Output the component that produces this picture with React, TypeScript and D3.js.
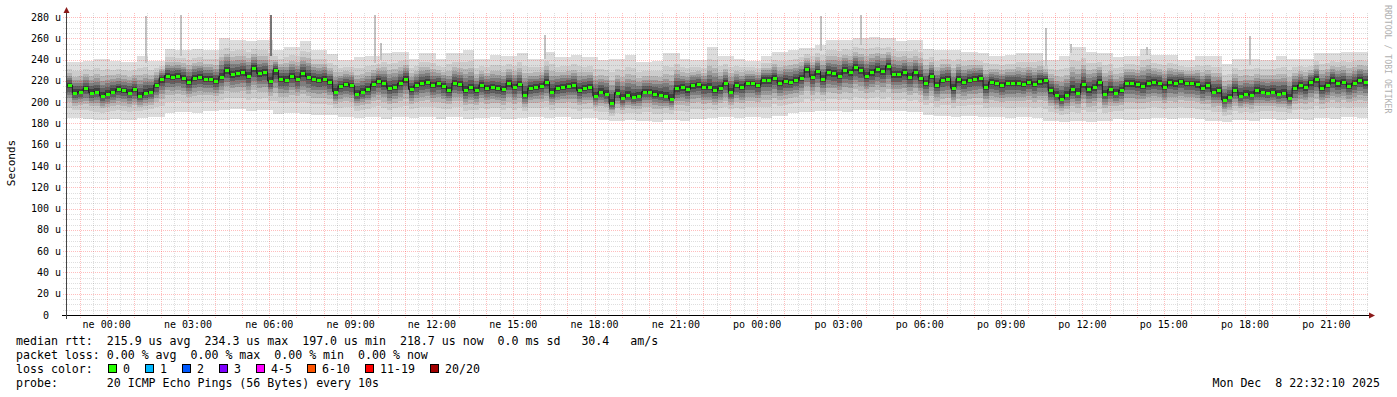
import React, { useRef, useEffect } from 'react';
import * as d3 from 'd3';

// 48 h window ending Mon Dec 8 22:32:10 2025, one median sample every 12 min
const START = Date.UTC(2025, 11, 6, 22, 32, 10);
const END = START + 48 * 3600 * 1000;
const STEP = 12 * 60 * 1000;
const HALF_HOUR = 30 * 60 * 1000;

const medianRtt = [
  216, 209, 210, 213, 209, 210, 206, 208, 210, 212,
  211, 209, 212, 206, 209, 210, 216, 222, 225, 224,
  225, 223, 219, 223, 224, 222, 222, 220, 224, 230,
  226, 227, 228, 225, 232, 227, 228, 220, 230, 222,
  221, 225, 222, 227, 224, 222, 221, 222, 219, 210,
  215, 217, 216, 208, 210, 212, 217, 220, 218, 213,
  214, 218, 222, 212, 216, 218, 219, 216, 218, 215,
  211, 218, 217, 211, 214, 211, 216, 213, 214, 213,
  212, 218, 214, 217, 207, 213, 214, 215, 219, 210,
  213, 214, 215, 216, 211, 213, 214, 206, 210, 208,
  199, 209, 204, 207, 205, 206, 210, 210, 208, 207,
  206, 203, 213, 214, 212, 216, 217, 214, 214, 211,
  213, 218, 210, 216, 214, 218, 218, 216, 221, 221,
  223, 218, 220, 219, 221, 223, 231, 224, 229, 222,
  228, 227, 225, 230, 228, 233, 230, 225, 228, 231,
  229, 234, 226, 226, 228, 224, 228, 223, 218, 225,
  216, 221, 222, 213, 222, 219, 221, 222, 223, 214,
  219, 218, 216, 218, 218, 218, 217, 219, 217, 220,
  221, 211, 207, 203, 207, 212, 209, 217, 212, 214,
  219, 208, 212, 209, 211, 218, 218, 217, 215, 218,
  219, 218, 214, 219, 218, 220, 218, 218, 217, 213,
  216, 210, 211, 202, 205, 211, 206, 208, 207, 211,
  210, 209, 210, 208, 209, 204, 213, 216, 214, 219,
  222, 213, 216, 221, 218, 219, 215, 218, 221, 219,
];

// half-hourly smoke envelope (slowest / fastest ping)
const smokeHigh = [
  238, 239, 241, 239, 238, 243, 239, 250, 249, 250, 249, 260, 258, 257, 258, 249, 252, 257, 249, 245,
  240, 242, 243, 246, 247, 241, 246, 241, 246, 249, 241, 244, 243, 246, 241, 247, 242, 244, 242,
  240, 241, 244, 238, 239, 246, 241, 240, 252, 243, 241, 239, 243, 247, 249, 251, 254, 258, 258,
  260, 261, 260, 257, 258, 250, 249, 249, 247, 246, 243, 244, 246, 246, 240, 243, 252, 247, 246,
  242, 243, 250, 244, 244, 240, 243, 243, 236, 241, 241, 240, 243, 241, 241, 246, 246, 247, 247,
];
const smokeLow = [
  185, 184, 183, 184, 183, 185, 186, 190, 191, 190, 192, 193, 194, 192, 193, 189, 190, 189, 188, 188,
  186, 185, 186, 184, 186, 185, 186, 184, 186, 184, 185, 186, 184, 185, 186, 185, 186, 184, 185,
  183, 182, 183, 182, 181, 183, 182, 184, 185, 186, 185, 186, 185, 187, 190, 191, 192, 192, 191,
  193, 193, 192, 192, 191, 188, 187, 186, 187, 186, 186, 185, 186, 185, 182, 181, 182, 181, 182,
  184, 183, 184, 185, 184, 185, 184, 182, 181, 183, 182, 184, 183, 184, 183, 185, 184, 186, 185,
];

// isolated slow pings (hours after window start)
const spikes = [
  { hour: 2.88, top: 281, dark: false },
  { hour: 4.16, top: 282, dark: false },
  { hour: 7.5, top: 282, dark: true },
  { hour: 11.32, top: 282, dark: false },
  { hour: 11.54, top: 256, dark: false },
  { hour: 17.6, top: 263, dark: false },
  { hour: 27.8, top: 281, dark: false },
  { hour: 29.26, top: 282, dark: false },
  { hour: 36.08, top: 270, dark: false },
  { hour: 37.0, top: 255, dark: false },
  { hour: 39.8, top: 252, dark: false },
  { hour: 43.6, top: 262, dark: false },
];

const yTicks = [0, 20, 40, 60, 80, 100, 120, 140, 160, 180, 200, 220, 240, 260, 280];
const dayNames = ['ne', 'po', 'út', 'st', 'čt', 'pá', 'so'];

const lossColors = [
  { label: '0', color: '#26ff00' },
  { label: '1', color: '#00b8ff' },
  { label: '2', color: '#0059ff' },
  { label: '3', color: '#7e00ff' },
  { label: '4-5', color: '#ff00ff' },
  { label: '6-10', color: '#ff5500' },
  { label: '11-19', color: '#ff0000' },
  { label: '20/20', color: '#a10000' },
];

const legendLines = [
  'median rtt:  215.9 us avg  234.3 us max  197.0 us min  218.7 us now  0.0 ms sd   30.4   am/s',
  'packet loss: 0.00 % avg  0.00 % max  0.00 % min  0.00 % now',
  'loss color:',
  'probe:       20 ICMP Echo Pings (56 Bytes) every 10s',
];

// shades from the outer ping pair to the ones next to the median
const smokeLayers = [
  { f: 1, c: '#dddddd' },
  { f: 0.7, c: '#cccccc' },
  { f: 0.52, c: '#b5b5b5' },
  { f: 0.4, c: '#9a9a9a' },
  { f: 0.3, c: '#7e7e7e' },
  { f: 0.2, c: '#606060' },
  { f: 0.1, c: '#404040' },
];

const MONO = '"DejaVu Sans Mono", monospace';

const App: React.FC = () => {
  const svgRef = useRef<SVGSVGElement>(null);

  useEffect(() => {
    if (!svgRef.current) return;
    const svg = d3.select(svgRef.current);
    svg.selectAll('*').remove();

    const left = 67, right = 1368, top = 17, bottom = 315;

    const x = d3.scaleUtc().domain([new Date(START), new Date(END)]).range([left, right]);
    const y = d3.scaleLinear().domain([0, 280]).range([bottom, top]);

    svg.append('rect').attr('width', 1397).attr('height', 397).attr('fill', '#fff');

    // smoke
    const smoke = svg.append('g').attr('shape-rendering', 'crispEdges');
    medianRtt.forEach((m, i) => {
      const t0 = START + i * STEP;
      const x0 = Math.round(x(new Date(t0)));
      const x1 = Math.round(x(new Date(t0 + STEP)));
      const h = Math.floor((i * STEP) / HALF_HOUR);
      const hi = smokeHigh[h];
      const lo = smokeLow[h];
      smokeLayers.forEach(l => {
        const top = m + (hi - m) * l.f;
        const bot = m - (m - lo) * l.f;
        smoke.append('rect')
          .attr('x', x0)
          .attr('width', x1 - x0)
          .attr('y', Math.round(y(top)))
          .attr('height', Math.max(1, Math.round(y(bot)) - Math.round(y(top))))
          .attr('fill', l.c);
      });
    });

    // spikes
    spikes.forEach(s => {
      const sx = Math.round(x(new Date(START + s.hour * 3600 * 1000)));
      const h = Math.floor((s.hour * 3600 * 1000) / HALF_HOUR);
      smoke.append('rect')
        .attr('x', sx)
        .attr('width', 2)
        .attr('y', Math.round(y(s.top)))
        .attr('height', Math.round(y(smokeHigh[h] - 6)) - Math.round(y(s.top)))
        .attr('fill', s.dark ? '#777777' : '#c2c2c2');
    });

    // grid
    const grid = svg.append('g').attr('shape-rendering', 'crispEdges');
    for (let v = 0; v <= 280; v += 5) {
      const gy = Math.round(y(v)) + 0.5;
      grid.append('line')
        .attr('x1', 63).attr('x2', right + 1)
        .attr('y1', gy).attr('y2', gy)
        .attr('stroke', v % 20 === 0 ? 'rgba(255,0,0,0.26)' : 'rgba(0,0,0,0.13)')
        .attr('stroke-dasharray', '1,1');
    }
    d3.utcMinute.every(30)!.range(new Date(START), new Date(END)).forEach(t => {
      const gx = Math.round(x(t)) + 0.5;
      const major = t.getUTCMinutes() === 0;
      grid.append('line')
        .attr('x1', gx).attr('x2', gx)
        .attr('y1', top - 4).attr('y2', bottom + (major ? 3 : 2))
        .attr('stroke', major ? 'rgba(255,0,0,0.26)' : 'rgba(0,0,0,0.13)')
        .attr('stroke-dasharray', '1,1');
    });

    // median: dark step line with green marks
    const line = d3.line<number>()
      .x((_, i) => x(new Date(START + i * STEP)))
      .y(d => y(d))
      .curve(d3.curveStepAfter);
    svg.append('path')
      .datum(medianRtt)
      .attr('fill', 'none')
      .attr('stroke', '#1e1e1e')
      .attr('stroke-width', 1)
      .attr('d', line);
    svg.append('g').attr('shape-rendering', 'crispEdges')
      .selectAll('rect')
      .data(medianRtt)
      .enter()
      .append('rect')
      .attr('x', (_, i) => Math.round(x(new Date(START + i * STEP))) + 1)
      .attr('width', 4)
      .attr('y', d => Math.round(y(d)) - 1)
      .attr('height', 3)
      .attr('fill', '#26ff00');

    // axes
    const axes = svg.append('g').attr('shape-rendering', 'crispEdges');
    axes.append('line')
      .attr('x1', 62).attr('x2', right + 2)
      .attr('y1', bottom + 0.5).attr('y2', bottom + 0.5)
      .attr('stroke', '#000');
    axes.append('line')
      .attr('x1', left - 0.5).attr('x2', left - 0.5)
      .attr('y1', bottom + 4).attr('y2', 12)
      .attr('stroke', '#444');
    svg.append('path')
      .attr('d', `M${right + 1},${bottom - 2.5}L${right + 7},${bottom + 0.5}L${right + 1},${bottom + 3.5}Z`)
      .attr('fill', '#8b1a1a');
    svg.append('path')
      .attr('d', `M${left - 3.5},13L${left - 0.5},7L${left + 2.5},13Z`)
      .attr('fill', '#8b1a1a');

    // y tick labels
    svg.append('g')
      .selectAll('text')
      .data(yTicks)
      .enter()
      .append('text')
      .attr('x', 61)
      .attr('y', d => y(d) + 3.5)
      .attr('text-anchor', 'end')
      .attr('xml:space', 'preserve')
      .style('white-space', 'pre')
      .style('font-family', MONO)
      .style('font-size', '10px')
      .text(d => (d === 0 ? '0  ' : `${d} u`));

    // x tick labels
    const fmt = d3.utcFormat('%H:%M');
    svg.append('g')
      .selectAll('text')
      .data(d3.utcHour.every(3)!.range(new Date(START), new Date(END)))
      .enter()
      .append('text')
      .attr('x', d => x(d))
      .attr('y', 328)
      .attr('text-anchor', 'middle')
      .style('font-family', MONO)
      .style('font-size', '10px')
      .text(d => `${dayNames[d.getUTCDay()]} ${fmt(d)}`);

    svg.append('text')
      .attr('transform', 'translate(15,163) rotate(-90)')
      .attr('text-anchor', 'middle')
      .style('font-family', MONO)
      .style('font-size', '11px')
      .text('Seconds');

    svg.append('text')
      .attr('transform', 'translate(1385,5) rotate(90)')
      .style('font-family', MONO)
      .style('font-size', '8.2px')
      .style('fill', '#b0b0b0')
      .text('RRDTOOL / TOBI OETIKER');

    // legend
    legendLines.forEach((t, i) => {
      svg.append('text')
        .attr('x', 16)
        .attr('y', 345 + i * 14)
        .attr('xml:space', 'preserve')
        .style('white-space', 'pre')
        .style('font-family', MONO)
        .style('font-size', '11.6px')
        .text(t);
    });
    let lx = 108;
    lossColors.forEach(l => {
      svg.append('rect')
        .attr('x', lx + 0.5).attr('y', 364.5)
        .attr('width', 8).attr('height', 8)
        .attr('fill', l.color)
        .attr('stroke', '#000')
        .attr('shape-rendering', 'crispEdges');
      svg.append('text')
        .attr('x', lx + 15)
        .attr('y', 373)
        .style('font-family', MONO)
        .style('font-size', '11.6px')
        .text(l.label);
      lx += l.label.length * 7 + 30;
    });

    svg.append('text')
      .attr('x', 1380)
      .attr('y', 387)
      .attr('text-anchor', 'end')
      .attr('xml:space', 'preserve')
      .style('white-space', 'pre')
      .style('font-family', MONO)
      .style('font-size', '11.6px')
      .text('Mon Dec  8 22:32:10 2025');
  }, []);

  return (
    <svg
      ref={svgRef}
      width={1397}
      height={397}
      style={{ position: 'absolute', left: 0, top: 0, display: 'block' }}
    />
  );
};

export default App;
